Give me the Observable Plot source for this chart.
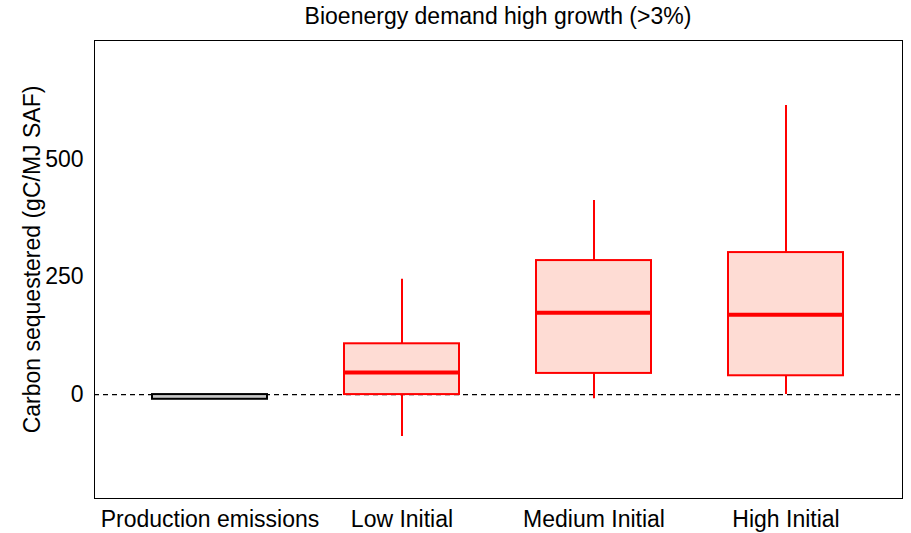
<!DOCTYPE html>
<html>
<head>
<meta charset="utf-8">
<script src="https://cdn.jsdelivr.net/npm/d3@7"></script>
<script src="https://cdn.jsdelivr.net/npm/@observablehq/plot@0.6"></script>
<style>
  html, body { margin: 0; padding: 0; background: #fff; }
  #wrap { width: 911px; font-family: "Liberation Sans", Arial, sans-serif; }
  #title { height: 32px; line-height: 32px; font-size: 23px; text-align: center; color: #000; padding-left: 94px; padding-right: 9px; box-sizing: border-box; width: 911px; }
</style>
</head>
<body>
<div id="wrap">
  <div id="title">Bioenergy demand high growth (&gt;3%)</div>
  <div id="chart"></div>
</div>
<script>
const categories = ["Production emissions", "Low Initial", "Medium Initial", "High Initial"];
const whiskerLow  = [-10, -89, -9, 0];
const q1          = [-10, 0, 45, 40];
const median      = [0, 47, 174, 170];
const q3          = [0, 108, 285, 302];
const whiskerHigh = [0, 245, 413, 615];
const strokeColors = ["#000000", "#ff0000", "#ff0000", "#ff0000"];
const fillColors   = ["#c8c8c8", "#fedcd4", "#fedcd4", "#fedcd4"];
const yTicks = [0, 250, 500];
const yLabel = "Carbon sequestered (gC/MJ SAF)";

const rows = categories.map((c, i) => ({
  cat: c, lo: whiskerLow[i], q1: q1[i], med: median[i], q3: q3[i], hi: whiskerHigh[i],
  stroke: strokeColors[i], fill: fillColors[i]
}));
const redRows = rows.filter(r => r.cat !== "Production emissions");

const chart = Plot.plot({
  width: 911,
  height: 501,
  marginTop: 8,
  marginBottom: 35,
  marginLeft: 94,
  marginRight: 9,
  style: { fontFamily: "Liberation Sans, Arial, sans-serif", fontSize: "23px", color: "#000", background: "#fff" },
  x: { domain: categories, paddingInner: 0.4, paddingOuter: 0.3, align: 0.5 },
  y: { domain: [-221, 753] },
  marks: [
    Plot.axisY({ticks: yTicks, tickSize: 0, tickPadding: 11, label: null, fontSize: 23}),
    Plot.text([yLabel], {frameAnchor: "left", rotate: -90, dx: -62, dy: -10, textAnchor: "middle", lineAnchor: "middle", fontSize: 23, fill: "#000"}),
    Plot.axisX({tickSize: 0, tickPadding: 12, label: null, fontSize: 23}),
    Plot.ruleY([0], {stroke: "#000", strokeWidth: 1.2, strokeDasharray: "5,4"}),
    Plot.ruleX(rows, {x: "cat", y1: "lo", y2: "hi", stroke: "stroke", strokeWidth: 2}),
    Plot.barY(rows, {x: "cat", y1: "q1", y2: "q3", fill: "fill", stroke: "stroke", strokeWidth: 2}),
    Plot.tickY(redRows, {x: "cat", y: "med", stroke: "stroke", strokeWidth: 4}),
    Plot.frame({stroke: "#000", strokeWidth: 1})
  ]
});
document.getElementById("chart").appendChild(chart);
</script>
</body>
</html>
